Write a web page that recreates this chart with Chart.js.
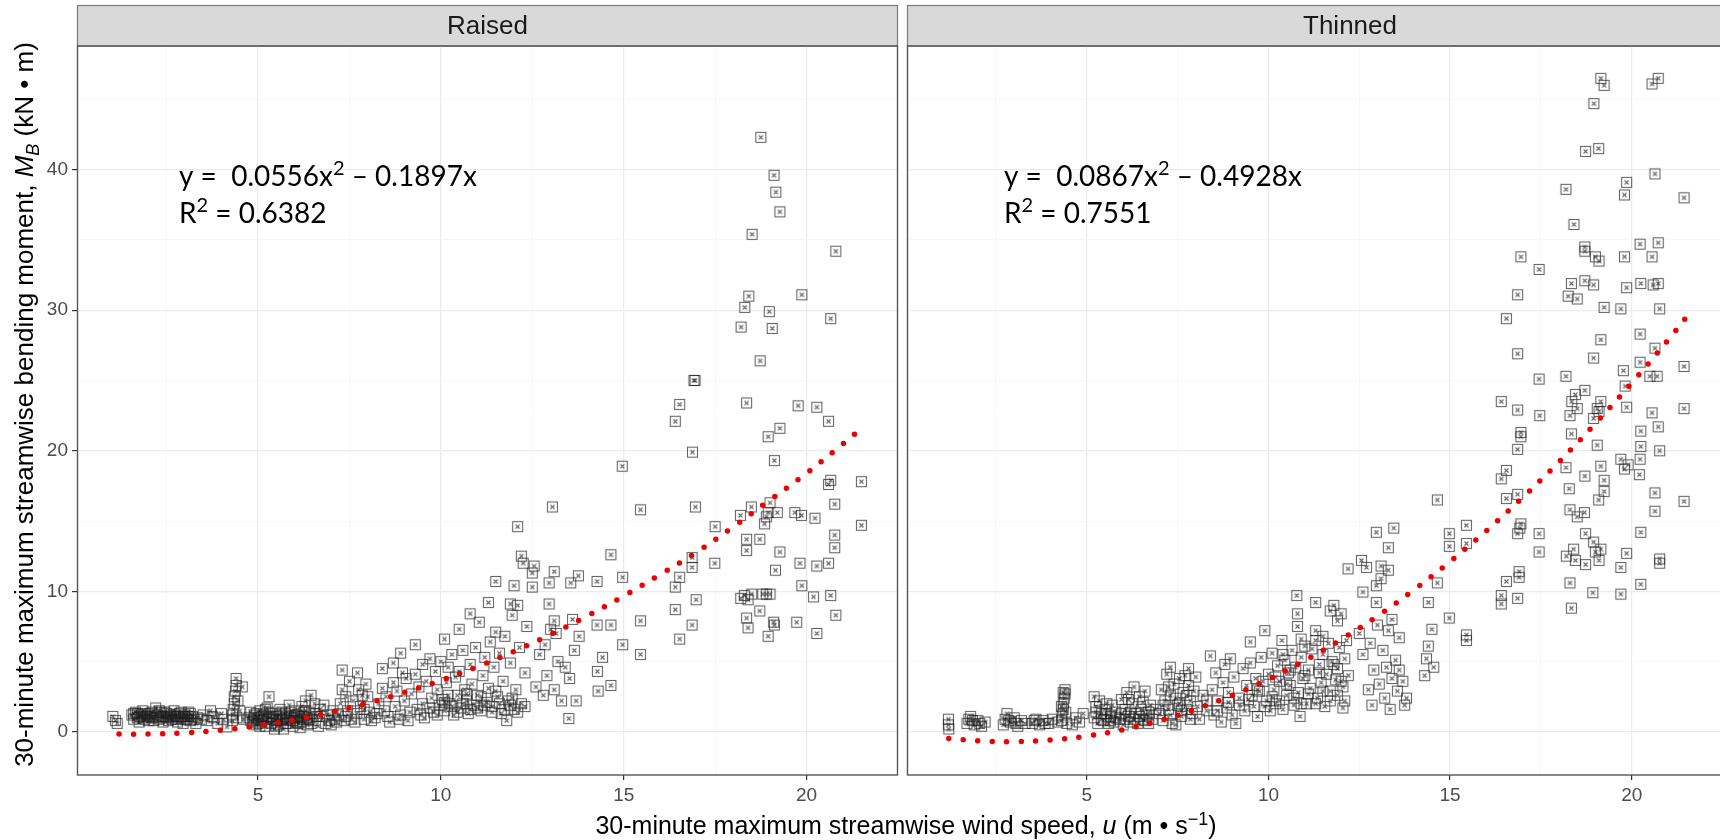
<!DOCTYPE html>
<html lang="en">
<head>
<meta charset="UTF-8">
<title>Bending moment vs wind speed</title>
<script src="https://cdn.jsdelivr.net/npm/chart.js"></script>
<style>
    html, body { margin: 0; padding: 0; width: 1720px; height: 840px; overflow: hidden; background: #fff; }
    #raised { position: absolute; left: 0; top: 0; }
    #thinned { position: absolute; left: 900px; top: 0; }
</style>
</head>
<body>
<canvas id="raised" width="1720" height="840"></canvas>
<canvas id="thinned" width="900" height="840"></canvas>
<script>
// ---- data ----
const panelNames = ['Raised', 'Thinned'];
const xGridTicks = [2.5, 5, 7.5, 10, 12.5, 15, 17.5, 20, 22.5];
const xLabelTicks = [5, 10, 15, 20];
const yGridTicks = [0, 5, 10, 15, 20, 25, 30, 35, 40, 45];
const yLabelTicks = [0, 10, 20, 30, 40];

// fitted curves (red dotted), read at these wind speeds
const fitU = [1.2, 2, 3, 4, 5, 6, 7, 8, 9, 10, 11, 12, 13, 14, 15, 16, 17, 18, 19, 20, 21, 21.5];
const raisedFitM = [-0.15, -0.16, -0.07, 0.13, 0.44, 0.86, 1.40, 2.04, 2.80, 3.66, 4.64, 5.73, 6.93, 8.24, 9.66, 11.2, 12.8, 14.6, 16.5, 18.4, 20.5, 21.6];
const thinnedFitM = [-0.47, -0.64, -0.70, -0.58, -0.30, 0.16, 0.80, 1.61, 2.59, 3.74, 5.07, 6.57, 8.24, 10.09, 12.12, 14.31, 16.68, 19.22, 21.94, 24.82, 27.88, 29.48];

const raisedEq = { a: '0.0556', b: '0.1897', r2: '0.6382' };
const thinnedEq = { a: '0.0867', b: '0.4928', r2: '0.7551' };

// [u, M_B] observations
const raisedPoints = [
    [1.03,1.1],[1.1,0.8],[1.15,0.6],
    [1.55,1.2],[1.6,0.9],[1.65,1.4],[1.7,1.0],[1.75,0.7],[1.8,1.2],[1.85,1.5],[1.9,0.9],[1.95,1.1],[2.0,0.8],
    [1.6,1.3],[1.9,1.3],[2.1,1.4],[2.3,1.5],[2.5,1.3],[2.7,1.2],[2.9,1.4],[3.1,1.1],[1.75,1.1],[2.05,1.1],[2.4,1.1],[2.6,1.0],[2.8,1.1],[3.0,0.9],
    [2.05,1.3],[2.1,1.0],[2.15,0.8],[2.2,1.7],[2.25,1.2],[2.3,0.9],[2.35,1.1],[2.4,0.7],[2.45,1.4],[2.5,1.0],[2.55,0.8],[2.6,1.2],
    [2.65,0.9],[2.7,1.5],[2.75,1.1],[2.8,0.7],[2.85,1.3],[2.9,1.0],[2.95,0.6],[3.0,1.2],[3.05,0.9],[3.1,1.4],[3.15,0.8],[3.2,1.1],[3.3,0.6],[3.35,1.0],
    [1.7,1.3],[1.85,1.0],[2.0,1.2],[2.2,1.0],[2.35,1.4],[2.55,1.1],[2.75,0.9],[2.95,1.1],[3.15,1.3],[3.25,0.9],[3.45,0.9],[3.75,1.1],
    [3.5,1.2],[3.6,0.8],[3.7,1.5],[3.8,1.0],[3.9,0.6],[4.0,1.3],[4.05,0.9],
    [4.15,0.35],[4.3,0.8],[4.3,1.2],[4.32,1.6],[4.35,2.0],[4.35,2.5],[4.38,2.9],[4.4,3.3],[4.4,3.8],[4.42,1.0],[4.45,2.2],[4.5,1.5],[4.57,3.2],[4.6,0.9],
    [4.75,1.0],[4.8,1.4],[4.85,0.7],[4.9,1.2],[4.95,0.5],[5.0,1.0],[5.05,1.5],[5.1,0.8],[5.15,1.2],[5.2,0.4],[5.25,1.7],[5.3,2.5],[5.3,1.0],[5.35,0.6],[5.4,1.3],[5.45,0.2],
    [4.9,0.9],[5.1,1.1],[5.3,1.4],[5.5,0.8],[5.6,1.2],[5.8,0.9],[5.9,1.4],[6.0,1.0],[6.2,1.1],[6.3,1.5],[5.0,0.6],[5.4,0.9],[5.7,1.0],[6.1,0.6],[5.2,1.6],[6.4,0.9],
    [4.8,0.8],[4.95,1.3],[5.05,0.4],[5.15,0.9],[5.25,0.7],[5.35,1.1],[5.5,0.4],[5.6,0.9],[5.65,1.4],[5.75,0.6],[5.85,1.1],[5.95,0.8],[6.05,1.2],[6.15,0.7],[6.25,1.4],[6.35,1.0],[6.45,0.6],[6.55,1.3],[6.75,1.1],[6.95,0.8],
    [5.5,1.1],[5.55,0.5],[5.6,1.6],[5.65,0.8],[5.7,0.2],[5.75,1.3],[5.8,0.6],[5.85,1.9],[5.9,1.0],[5.95,0.4],[6.0,1.5],[6.05,0.7],[6.1,1.2],[6.15,0.3],[6.2,1.8],[6.25,0.9],[6.3,2.2],[6.35,0.5],[6.4,1.4],
    [6.45,2.6],[6.5,0.8],[6.55,2.0],[6.6,1.1],[6.65,0.4],[6.7,1.6],[6.8,1.9],[6.85,0.6],[6.9,1.2],[7.0,0.5],[7.05,1.5],[7.1,0.9],
    [7.2,1.2],[7.25,2.0],[7.3,4.4],[7.3,3.0],[7.35,0.8],[7.4,2.5],[7.45,1.5],[7.5,3.6],[7.55,0.9],[7.6,2.2],[7.7,1.3],[7.72,4.2],[7.75,3.0],[7.8,1.8],[7.85,2.6],[7.9,0.9],[7.95,3.4],[8.0,2.5],[8.05,1.4],
    [7.15,0.7],[7.4,1.1],[7.65,0.7],[7.9,1.6],[8.1,0.8],[8.25,1.3],[8.55,1.1],[8.85,0.9],[9.15,1.4],[9.45,1.2],
    [8.2,1.0],[8.3,2.0],[8.4,4.5],[8.4,3.1],[8.45,1.5],[8.5,2.5],[8.6,0.7],[8.7,4.9],[8.7,3.5],[8.75,1.8],[8.8,2.9],[8.9,5.6],[8.9,1.2],[8.95,4.2],[9.0,2.2],[9.05,3.8],[9.1,0.8],
    [9.2,2.7],[9.3,6.2],[9.3,4.1],[9.35,1.6],[9.4,3.2],[9.5,4.8],[9.5,2.0],[9.55,1.0],[9.6,3.6],[9.7,5.2],[9.75,2.4],[9.8,1.4],[9.85,4.3],[9.9,3.0],[9.95,1.9],
    [10.0,5.0],[10.05,2.3],[10.1,6.6],[10.1,1.5],[10.15,3.5],[10.2,4.6],[10.25,2.0],[10.3,5.5],[10.35,1.2],[10.4,3.9],[10.45,2.6],[10.5,7.3],[10.5,4.3],[10.55,1.7],[10.6,5.8],[10.65,3.0],[10.7,2.2],[10.75,1.3],[10.8,8.4],[10.8,4.8],[10.85,3.4],[10.9,1.9],[10.95,6.0],[11.0,2.6],
    [9.7,1.7],[9.9,1.2],[10.1,2.1],[10.3,1.8],[10.45,1.4],[10.6,2.0],[10.8,1.6],[11.0,1.7],[11.2,1.9],[11.4,1.4],[11.6,2.0],[11.75,1.6],[11.9,1.9],[12.1,1.4],[12.3,1.8],
    [10.2,2.6],[10.7,2.7],[11.1,2.5],[11.5,2.9],[11.95,2.4],
    [11.05,7.8],[11.1,1.5],[11.15,4.0],[11.2,5.3],[11.25,2.1],[11.3,9.2],[11.3,3.1],[11.35,6.4],[11.4,1.8],[11.45,4.6],[11.5,10.7],[11.5,7.1],[11.55,2.5],[11.6,5.6],[11.65,1.3],[11.7,3.6],[11.75,6.8],[11.8,0.8],[11.85,2.2],[11.9,9.1],[11.9,4.9],[11.95,8.3],[12.0,10.4],[12.0,1.6],[12.05,3.0],[12.1,9.0],[12.1,14.6],[12.15,6.0],[12.2,12.5],[12.2,2.0],[12.25,12.0],[12.3,4.2],[12.35,7.5],
    [12.5,11.3],[12.5,10.3],[12.55,11.8],[12.6,3.2],[12.7,5.5],[12.8,2.6],[12.85,6.2],[12.9,4.0],[12.96,10.6],[12.96,9.1],[13.0,7.3],[13.05,16.0],[13.1,11.4],[13.1,7.9],[13.1,3.0],[13.15,7.0],[13.2,5.0],[13.3,2.2],[13.4,4.6],[13.5,0.95],[13.52,3.8],[13.55,10.6],[13.6,8.0],[13.65,5.8],[13.7,2.2],[13.76,11.1],[13.78,6.8],
    [14.27,10.7],[14.27,7.6],[14.28,4.3],[14.3,2.9],[14.42,5.3],[14.65,12.6],[14.65,7.6],[14.65,3.3],[14.96,18.9],[14.97,11.0],[14.97,6.2],[15.46,15.8],[15.46,7.9],[15.46,5.5],
    [16.41,22.1],[16.41,10.3],[16.41,8.7],[16.53,23.3],[16.53,11.0],[16.53,6.6],[16.87,12.4],[16.87,11.7],[16.87,7.6],[16.88,19.9],[16.92,25.0],[16.95,25.0],[16.96,16.0],[16.98,9.4],[17.49,12.0],[17.5,14.6],
    [18.19,15.4],[18.21,28.8],[18.31,30.2],[18.36,23.4],[18.36,13.7],[18.36,12.9],[18.36,8.1],[18.4,7.4],[18.42,31.0],[18.49,16.0],[18.51,35.4],[18.2,9.5],[18.3,9.7],[18.4,9.4],[18.5,9.8],
    [18.72,13.7],[18.72,8.6],[18.73,26.4],[18.75,42.3],[18.85,14.8],[18.9,15.3],[18.95,15.6],[18.95,21.0],[18.95,6.8],[18.98,29.9],[18.8,9.8],[18.9,9.8],[19.0,9.8],[19.0,16.3],[19.06,28.7],[19.1,7.8],[19.12,7.6],[19.11,39.6],[19.12,19.3],[19.15,11.5],[19.16,38.4],[19.2,15.6],[19.27,37.0],[19.27,21.6],[19.27,12.8],
    [19.68,15.6],[19.73,7.8],[19.77,23.2],[19.82,12.0],[19.86,15.4],[19.87,31.1],[19.87,10.4],[20.19,9.6],[20.23,15.2],[20.28,23.1],[20.28,11.8],[20.28,7.0],[20.6,22.1],[20.6,17.6],[20.6,12.0],[20.66,29.4],[20.66,17.9],[20.66,9.7],[20.77,16.2],[20.77,14.0],[20.77,13.1],[20.8,34.2],[20.8,8.3],[21.5,17.8],[21.5,14.7]
];

const thinnedPoints = [
    [1.19,0.9],[1.19,0.5],[1.2,0.2],
    [1.7,0.6],[1.75,0.9],[1.8,1.1],[1.9,0.5],[2.0,0.8],[2.1,0.4],[2.2,0.7],
    [2.7,0.5],[2.75,0.9],[2.8,1.3],[2.9,0.7],[3.0,1.0],[3.1,0.4],[3.2,0.8],[3.3,0.6],
    [1.85,0.8],[2.05,0.6],[2.85,0.8],[3.05,0.6],[3.55,0.8],[3.85,0.6],[4.2,0.7],[4.45,0.6],[4.35,2.8],[4.3,1.8],
    [3.5,0.6],[3.6,0.9],[3.7,0.5],[3.8,0.8],[3.95,0.6],[4.05,0.9],
    [4.3,0.8],[4.32,1.2],[4.35,1.6],[4.35,2.0],[4.38,2.4],[4.4,2.7],[4.4,3.0],[4.42,1.4],
    [4.6,0.5],[4.7,1.0],[4.8,0.7],[4.9,1.3],
    [5.2,2.5],[5.2,1.0],[5.25,1.8],[5.3,0.6],[5.35,2.2],[5.4,1.3],[5.45,0.8],[5.5,1.6],[5.55,2.0],[5.6,0.6],[5.65,1.1],[5.7,1.9],[5.75,0.7],[5.8,1.4],
    [5.25,1.4],[5.4,0.9],[5.55,1.3],[5.65,0.8],[5.8,1.0],[5.95,1.3],[6.05,0.9],[6.2,1.4],[6.3,0.9],[6.45,1.1],[6.6,0.8],[6.7,1.4],[6.8,0.9],[6.9,1.6],[6.15,2.3],[6.55,2.1],
    [5.9,0.9],[5.95,2.3],[6.0,0.5],[6.05,1.6],[6.1,2.8],[6.15,1.1],[6.2,0.7],[6.25,2.0],[6.3,3.2],[6.35,1.3],[6.4,0.6],[6.45,2.5],[6.5,1.6],[6.55,0.9],[6.6,2.9],[6.65,1.2],[6.7,0.6],[6.75,1.9],
    [7.0,1.3],[7.05,3.0],[7.1,0.8],[7.15,2.2],[7.2,4.1],[7.25,1.6],[7.3,4.6],[7.3,2.6],[7.35,0.6],[7.4,3.4],[7.45,0.5],[7.5,1.9],[7.55,3.8],[7.6,1.1],[7.65,2.8],[7.7,4.0],[7.75,1.6],[7.8,4.5],[7.8,3.3],[7.85,2.2],[7.85,0.9],
    [7.1,1.9],[7.3,1.2],[7.45,2.4],[7.6,1.5],[7.75,2.6],[7.9,1.3],[7.95,2.9],[7.25,3.2],[7.55,2.0],
    [8.0,3.9],[8.05,1.8],[8.1,0.9],[8.2,2.6],[8.3,1.5],[8.4,5.4],[8.45,3.0],[8.5,1.2],[8.55,4.2],[8.6,2.2],[8.7,0.7],[8.75,3.5],[8.8,4.8],[8.85,1.7],[8.9,2.8],[8.95,5.2],[9.0,1.2],[9.05,3.9],[9.1,0.6],
    [8.3,2.2],[8.6,1.5],[8.9,2.1],[9.2,1.9],[9.45,2.3],[9.7,3.0],[9.9,1.8],[10.1,2.5],[10.3,2.2],[10.5,3.4],[10.7,2.4],[10.9,2.0],[11.1,2.7],[11.3,2.0],[11.5,2.9],[11.7,2.2],[11.9,2.6],[12.1,2.2],
    [9.2,2.4],[9.3,4.5],[9.35,1.5],[9.4,3.3],[9.5,6.4],[9.5,4.9],[9.55,2.6],[9.6,1.8],[9.65,3.8],[9.7,1.1],[9.75,2.9],[9.8,5.3],[9.85,3.6],[9.9,7.2],[9.95,2.2],
    [10.0,4.1],[10.05,1.5],[10.1,5.6],[10.15,3.0],[10.2,2.0],[10.25,4.7],[10.3,3.6],[10.37,6.5],[10.4,1.6],[10.45,5.1],[10.5,2.6],[10.55,4.2],[10.6,3.3],[10.65,5.8],[10.7,1.9],[10.75,4.6],[10.78,9.7],[10.8,8.4],[10.8,7.5],[10.82,2.8],[10.87,1.1],[10.9,5.3],[10.95,3.8],[11.0,6.1],
    [10.2,3.9],[10.6,4.4],[11.0,4.0],[11.4,4.2],[11.8,4.8],[12.0,3.6],[10.4,5.5],[10.9,6.6],[11.5,6.8],[12.15,6.5],
    [11.05,2.0],[11.1,4.4],[11.15,3.1],[11.2,5.9],[11.3,9.2],[11.3,7.2],[11.3,6.5],[11.35,2.4],[11.4,4.8],[11.45,3.5],[11.5,5.5],[11.55,1.8],[11.6,4.1],[11.65,6.3],[11.7,8.6],[11.7,2.9],[11.75,5.0],[11.8,9.0],[11.85,3.7],[11.9,7.9],[11.9,4.5],[11.95,6.0],[12.0,8.4],[12.05,1.7],[12.05,3.2],[12.1,5.2],[12.19,11.6],[12.2,4.0],
    [12.5,7.0],[12.56,12.2],[12.6,9.95],[12.6,5.5],[12.7,11.7],[12.75,3.0],[12.8,6.3],[12.85,1.9],[12.9,4.4],[12.97,14.2],[12.97,10.4],[12.97,9.2],[13.0,7.6],[13.05,3.4],[13.1,11.8],[13.1,10.9],[13.15,5.8],[13.2,2.4],[13.25,4.6],[13.3,13.1],[13.3,7.2],[13.35,1.6],[13.4,3.8],[13.5,5.1],[13.55,2.9],[13.6,6.7],[13.7,3.6],[13.75,1.9],
    [13.4,8.0],[13.6,4.4],[13.8,2.4],[13.3,11.5],[13.45,14.5],
    [14.3,4.0],[14.35,5.2],[14.4,9.2],[14.4,6.1],[14.5,7.3],[14.55,4.6],[14.65,16.5],[14.65,10.6],[14.98,14.1],[14.98,13.2],[14.98,8.1],[15.45,14.7],[15.45,13.4],[15.45,6.9],[15.45,6.5],
    [16.41,23.5],[16.41,18.0],[16.41,9.7],[16.41,9.1],[16.55,29.4],[16.55,18.6],[16.55,16.6],[16.55,10.7],[16.86,31.1],[16.86,26.9],[16.86,22.9],[16.86,20.1],[16.86,16.9],[16.86,14.1],[16.86,9.5],[16.9,11.0],[16.9,11.4],[16.92,14.5],[16.95,33.8],[16.95,21.0],[16.95,21.3],[16.95,14.8],[17.45,32.9],[17.45,25.1],[17.47,22.5],[17.45,14.1],[17.45,12.8],
    [18.19,38.6],[18.19,25.3],[18.19,18.8],[18.2,12.5],[18.25,31.0],[18.28,17.3],[18.3,15.8],[18.3,10.6],[18.3,22.5],[18.34,31.9],[18.34,21.2],[18.34,8.8],[18.35,23.5],[18.4,13.0],[18.41,36.1],[18.45,24.0],[18.45,12.2],[18.5,30.8],[18.5,15.3],[18.5,23.0],
    [18.71,34.5],[18.71,34.2],[18.71,32.1],[18.71,24.3],[18.71,18.2],[18.73,41.3],[18.73,14.1],[18.73,11.9],[18.7,15.6],[18.93,9.9],[18.95,31.8],[18.95,26.6],[18.95,22.3],[18.96,44.7],[18.95,13.5],[19.0,33.8],[19.0,12.8],[19.05,20.4],[19.05,23.0],[19.09,41.5],[19.09,16.5],[19.1,33.5],[19.1,22.8],[19.1,12.2],[19.15,46.5],[19.15,27.9],[19.15,18.9],[19.15,23.5],[19.15,13.0],[19.24,46.0],[19.24,30.2],[19.24,17.9],[19.24,17.1],
    [19.7,30.1],[19.7,19.4],[19.7,11.7],[19.7,9.8],[19.77,25.7],[19.8,38.2],[19.8,33.8],[19.8,18.7],[19.82,24.6],[19.86,39.1],[19.86,31.6],[19.86,23.1],[19.86,12.7],[19.9,19.0],[20.21,18.3],[20.23,34.7],[20.23,28.3],[20.23,26.3],[20.23,19.4],[20.25,31.9],[20.25,21.4],[20.25,20.3],[20.25,14.2],[20.25,10.5],
    [20.5,25.3],[20.56,46.1],[20.56,33.8],[20.56,22.7],[20.59,31.8],[20.64,39.7],[20.64,27.3],[20.64,17.0],[20.64,15.7],[20.7,25.3],[20.73,46.5],[20.73,34.8],[20.73,31.9],[20.73,21.7],[20.77,30.1],[20.77,20.0],[20.77,12.3],[20.77,12.0],[21.44,38.0],[21.44,26.0],[21.44,23.0],[21.44,16.4]
];

// ---- styling ----
const FONT = "'Liberation Sans', Arial, sans-serif";
const EQ_FONT = "Lato, 'Open Sans', sans-serif";
const TICK_SIZE = 19;
const TITLE_SIZE = 25;
const STRIP_SIZE = 26;
const EQ_SIZE = 28;

// square-with-cross marker, semi transparent like the ggplot points
function makeMarker() {
    const c = document.createElement('canvas');
    c.width = 13; c.height = 13;
    const g = c.getContext('2d');
    g.strokeStyle = 'rgba(30,30,30,0.68)';
    g.lineWidth = 1.1;
    g.strokeRect(1.5, 1.5, 10, 10);
    g.beginPath();
    g.moveTo(4.5, 4.5); g.lineTo(8.5, 8.5);
    g.moveTo(8.5, 4.5); g.lineTo(4.5, 8.5);
    g.stroke();
    return c;
}
const marker = makeMarker();

// text with italic / sub / superscript pieces
function drawRich(ctx, segs, x, y, size, family, align) {
    let total = 0;
    const parts = segs.map(s => {
        const small = s.sub || s.sup;
        const f = (s.i ? 'italic ' : '') + (small ? Math.round(size * 0.7) : size) + 'px ' + family;
        ctx.font = f;
        const w = ctx.measureText(s.t).width;
        total += w;
        return { s, f, w };
    });
    let cx = align === 'center' ? x - total / 2 : x;
    ctx.textAlign = 'left';
    ctx.textBaseline = 'alphabetic';
    parts.forEach(p => {
        ctx.font = p.f;
        let dy = 0;
        if (p.s.sup) dy = -size * 0.38;
        if (p.s.sub) dy = size * 0.22;
        ctx.fillText(p.s.t, cx, y + dy);
        cx += p.w;
    });
}

const decor = {
    id: 'decor',
    beforeDraw(chart, args, o) {
        const { ctx, chartArea: a } = chart;
        ctx.save();
        ctx.fillStyle = '#D9D9D9';
        ctx.fillRect(a.left, 5, a.right - a.left, a.top - 5);
        ctx.strokeStyle = '#7A7A7A';
        ctx.lineWidth = 1.2;
        ctx.strokeRect(a.left + 0.5, 5.5, a.right - a.left - 1, a.top - 5.5);
        ctx.fillStyle = '#1A1A1A';
        ctx.font = STRIP_SIZE + 'px ' + FONT;
        ctx.textAlign = 'center';
        ctx.textBaseline = 'middle';
        ctx.fillText(o.strip, (a.left + a.right) / 2, (5 + a.top) / 2 + 1);
        ctx.restore();
    },
    afterDatasetsDraw(chart, args, o) {
        const { ctx, chartArea: a } = chart;
        ctx.save();
        ctx.strokeStyle = '#555555';
        ctx.lineWidth = 1.4;
        ctx.strokeRect(a.left + 0.5, a.top, a.right - a.left - 1, a.bottom - a.top);
        ctx.fillStyle = '#000';
        drawRich(ctx, [{ t: 'y =  ' + o.eq.a + 'x' }, { t: '2', sup: true }, { t: ' \u2013 ' + o.eq.b + 'x' }], o.eqX, 186, EQ_SIZE, EQ_FONT, 'left');
        drawRich(ctx, [{ t: 'R' }, { t: '2', sup: true }, { t: ' = ' + o.eq.r2 }], o.eqX, 223, EQ_SIZE, EQ_FONT, 'left');
        ctx.restore();
    },
    afterDraw(chart, args, o) {
        if (!o.titles) return;
        const { ctx, chartArea: a } = chart;
        ctx.save();
        ctx.fillStyle = '#000';
        drawRich(ctx, [
            { t: '30-minute maximum streamwise wind speed, ' }, { t: 'u', i: true },
            { t: ' (m \u2022 s' }, { t: '\u22121', sup: true }, { t: ')' }
        ], 906, 834, TITLE_SIZE, FONT, 'center');
        ctx.translate(33, (a.top + a.bottom) / 2 - 6);
        ctx.rotate(-Math.PI / 2);
        drawRich(ctx, [
            { t: '30-minute maximum streamwise bending moment, ' }, { t: 'M', i: true }, { t: 'B', i: true, sub: true },
            { t: ' (kN \u2022 m)' }
        ], 0, 0, 26, FONT, 'center');
        ctx.restore();
    }
};

function isMajor(list, c) {
    return c.tick && list.includes(c.tick.value);
}

function makeChart(id, points, fitM, cfg) {
    return new Chart(document.getElementById(id), {
        type: 'scatter',
        data: {
            datasets: [
                {
                    data: fitU.map((u, i) => ({ x: u, y: fitM[i] })),
                    showLine: true,
                    borderColor: '#EE0000',
                    borderWidth: 5.5,
                    borderDash: [0, 14.5],
                    borderCapStyle: 'round',
                    pointRadius: 0,
                    tension: 0.4,
                    order: 0
                },
                {
                    data: points.map(p => ({ x: p[0], y: p[1] })),
                    pointStyle: marker,
                    pointRadius: 6,
                    order: 1
                }
            ]
        },
        options: {
            responsive: false,
            animation: false,
            events: [],
            layout: { padding: { left: 0, top: 46, right: cfg.padRight, bottom: 0 } },
            plugins: {
                legend: { display: false },
                tooltip: { enabled: false },
                decor: cfg.decor
            },
            scales: {
                x: {
                    type: 'linear',
                    min: 0.05,
                    max: cfg.xMax,
                    afterBuildTicks: s => { s.ticks = xGridTicks.filter(v => v < cfg.xMax).map(v => ({ value: v })); },
                    afterFit: s => { s.height = 65; },
                    border: { display: false },
                    grid: {
                        color: c => isMajor(xLabelTicks, c) ? '#EBEBEB' : '#F4F4F4',
                        lineWidth: c => isMajor(xLabelTicks, c) ? 1.2 : 0.7,
                        tickColor: c => isMajor(xLabelTicks, c) ? '#333333' : 'rgba(0,0,0,0)',
                        tickLength: 5,
                        tickWidth: 1.2
                    },
                    ticks: {
                        autoSkip: false,
                        maxRotation: 0,
                        padding: 4,
                        color: '#4D4D4D',
                        font: { family: FONT, size: TICK_SIZE },
                        callback: v => xLabelTicks.includes(v) ? String(v) : ''
                    }
                },
                y: {
                    type: 'linear',
                    min: -3.07,
                    max: 48.8,
                    afterBuildTicks: s => { s.ticks = yGridTicks.map(v => ({ value: v })); },
                    afterFit: s => { s.width = cfg.yWidth; },
                    border: { display: false },
                    grid: {
                        color: c => isMajor(yLabelTicks, c) ? '#EBEBEB' : '#F4F4F4',
                        lineWidth: c => isMajor(yLabelTicks, c) ? 1.2 : 0.7,
                        tickColor: c => isMajor(yLabelTicks, c) ? '#333333' : 'rgba(0,0,0,0)',
                        tickLength: 5,
                        tickWidth: 1.2,
                        drawTicks: cfg.yLabels
                    },
                    ticks: {
                        display: cfg.yLabels,
                        autoSkip: false,
                        padding: 4,
                        color: '#4D4D4D',
                        font: { family: FONT, size: TICK_SIZE },
                        callback: v => yLabelTicks.includes(v) ? String(v) : ''
                    }
                }
            }
        },
        plugins: [decor]
    });
}

makeChart('raised', raisedPoints, raisedFitM, {
    padRight: 1720 - 898,
    yWidth: 77,
    yLabels: true,
    xMax: 22.5,
    decor: { strip: panelNames[0], eq: raisedEq, eqX: 179, titles: true }
});

// right panel runs past the picture edge, so its canvas and range are wider
makeChart('thinned', thinnedPoints, thinnedFitM, {
    padRight: 2,
    yWidth: 6,
    yLabels: false,
    xMax: 24.44,
    decor: { strip: panelNames[1], eq: thinnedEq, eqX: 104, titles: false }
});
</script>
</body>
</html>
